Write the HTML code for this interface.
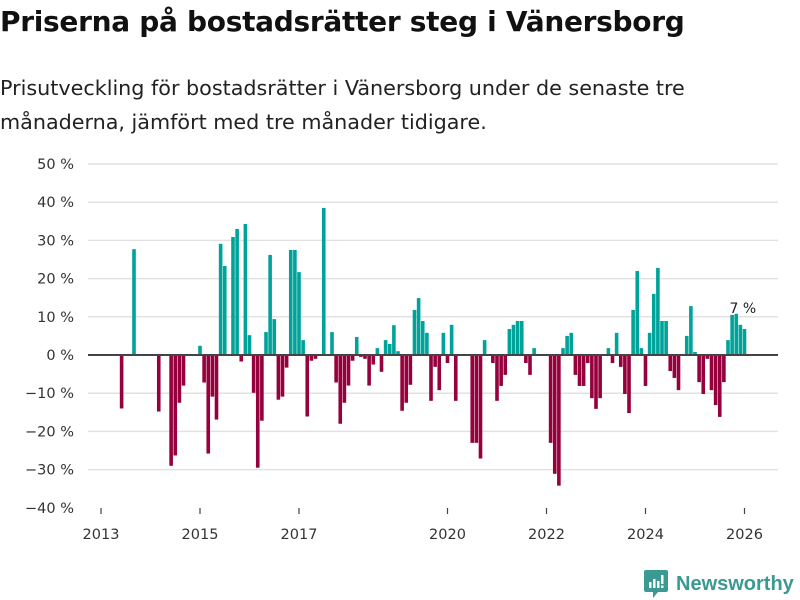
<!DOCTYPE html>
<html><head><meta charset="utf-8"><style>
body{margin:0;width:800px;height:600px;background:#fff;font-family:"DejaVu Sans","Liberation Sans",sans-serif;overflow:hidden;position:relative}
#title{position:absolute;left:0;top:5px;font-size:28px;font-weight:bold;color:#111;white-space:nowrap;letter-spacing:-0.3px}
#sub{position:absolute;left:0;top:71px;font-size:20.7px;line-height:34px;color:#222;width:720px}
svg{position:absolute;left:0;top:0}
</style></head><body>
<div id="title">Priserna på bostadsrätter steg i Vänersborg</div>
<div id="sub">Prisutveckling för bostadsrätter i Vänersborg under de senaste tre månaderna, jämfört med tre månader tidigare.</div>
<svg id="chart" width="800" height="600"></svg>
<script>
const yTicks=[50,40,30,20,10,0,-10,-20,-30,-40];
const xYears=[2013,2015,2017,2020,2022,2024,2026];
const values=[
null,null,null,null,null,-14.0,null,null,27.7,null,null,null,
null,null,-14.8,null,null,-29.0,-26.3,-12.5,-8.0,null,null,null,
2.4,-7.2,-25.8,-10.9,-16.9,29.1,23.3,null,30.9,33.0,-1.7,34.3,
5.2,-9.9,-29.5,-17.2,6.0,26.2,9.4,-11.7,-10.9,-3.3,27.5,27.5,
21.7,3.9,-16.1,-1.5,-1.0,null,38.5,null,6.0,-7.2,-18.0,-12.5,
-8.0,-1.5,4.7,-0.5,-1.0,-8.0,-2.5,1.8,-4.4,3.9,2.9,7.8,
1.0,-14.6,-12.5,-7.8,11.8,14.9,8.9,5.8,-12.0,-3.1,-9.2,5.8,
-2.1,7.9,-12.0,null,null,null,-23.0,-23.0,-27.1,3.9,null,-2.1,
-12.0,-8.1,-5.2,6.8,7.9,8.9,8.9,-2.1,-5.2,1.8,null,null,
null,-23.0,-31.1,-34.2,1.8,5.0,5.8,-5.2,-8.1,-8.1,-2.1,-11.3,
-14.1,-11.3,null,1.8,-2.1,5.8,-3.1,-10.2,-15.2,11.8,22.0,1.8,
-8.1,5.8,16.0,22.8,8.9,8.9,-4.2,-6.0,-9.2,null,5.0,12.8,
0.8,-7.1,-10.2,-1.0,-9.2,-13.1,-16.2,-7.1,3.9,10.5,10.8,7.9,
6.8];
const startYear=2013;
const NS="http://www.w3.org/2000/svg";
const svg=document.getElementById('chart');
const y=v=>355-v*3.82;
const x=i=>101+i*4.125;
const xy=yr=>x((yr-startYear)*12);
function mk(t,a){const e=document.createElementNS(NS,t);for(const k in a)e.setAttribute(k,a[k]);svg.appendChild(e);return e;}
yTicks.forEach(t=>{
  if(t!==0&&t!==-40){const g=mk('line',{x1:88,x2:778,y1:y(t),y2:y(t),stroke:'#e2e2e2','stroke-width':1.5});
  
  }
  const l=mk('text',{x:74,y:y(t)+5,'text-anchor':'end','font-size':14.5,fill:'#333'});
  l.textContent=(t<0?'\u2212'+(-t):t)+' %';
  
  
});
values.forEach((v,i)=>{
  if(v===null)return;
  const r=mk('rect',{x:x(i)-1.8,width:3.6,y:v>=0?y(v):y(0),height:Math.abs(y(v)-y(0)),fill:v>=0?'#00a39a':'#96003c'});
  
  
});
const z=mk('line',{x1:88,x2:778,y1:y(0),y2:y(0),stroke:'#444','stroke-width':2});


xYears.forEach(yr=>{
  const tk=mk('line',{x1:xy(yr),x2:xy(yr),y1:508,y2:514,stroke:'#444','stroke-width':1.2});
  
  
  const l=mk('text',{x:xy(yr),y:539,'text-anchor':'middle','font-size':14.5,fill:'#333'});
  l.textContent=yr;
  
  
});
const last=values.length-1;
const lab=mk('text',{x:x(last)-15,y:y(values[last])-16,'font-size':14,fill:'#222',stroke:'#fff','stroke-width':3,'paint-order':'stroke'});
lab.textContent=Math.round(values[last])+' %';


</script>
<div style="position:absolute;left:644px;top:570px;display:flex;align-items:center">
<svg width="24" height="28" viewBox="0 0 24 28" style="position:static"><path d="M2 0H22Q24 0 24 2V20Q24 22 22 22H14L9 28V22H2Q0 22 0 20V2Q0 0 2 0Z" fill="#3a9a92"/><rect x="5" y="12" width="2.5" height="6" fill="#fff"/><rect x="9" y="9" width="2.5" height="9" fill="#fff"/><rect x="13" y="11" width="2.5" height="7" fill="#fff"/><rect x="17" y="5" width="2.5" height="9" fill="#fff"/><rect x="17" y="15.5" width="2.5" height="2.5" fill="#fff"/></svg>
<span style="font-family:'Liberation Sans',sans-serif;font-size:20px;color:#3a9a92;margin-left:8px;font-weight:bold">Newsworthy</span></div>
</body></html>
